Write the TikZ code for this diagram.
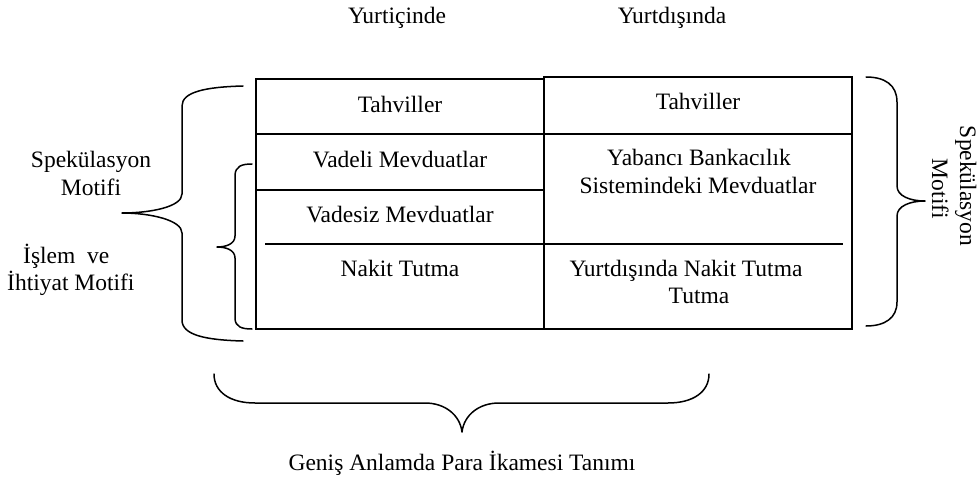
\documentclass[tikz,border=0pt]{standalone}
\usepackage{fontspec}
\setmainfont{Liberation Serif}
\begin{document}
\begin{tikzpicture}[x=1pt,y=-1pt,
  txt/.style={font=\fontsize{23.5}{27}\selectfont, inner sep=0pt, anchor=base},
  frame/.style={line width=1.6pt},
  brace/.style={line width=1.5pt, line join=round, line cap=round}]
\useasboundingbox (0,0) rectangle (980,487);

% top headings
\node[txt] (hdom) at (397,24) {Yurtiçinde};
\node[txt] (hfor) at (672,24) {Yurtdışında};

% table frames
\draw[frame] (256,79) rectangle (544,329);
\draw[frame] (544,77) rectangle (852,329);
\draw[frame] (256,134) -- (852,134);
\draw[frame] (256,190) -- (544,190);
\draw[frame] (265,244) -- (843,244);

% left column cells
\node[txt] (lt) at (400,112) {Tahviller};
\node[txt] (lv) at (400,167) {Vadeli Mevduatlar};
\node[txt] (lz) at (400,222) {Vadesiz Mevduatlar};
\node[txt] (ln) at (400,276) {Nakit Tutma};

% right column cells
\node[txt] (rt) at (698,110) {Tahviller};
\node[txt] (ry1) at (699,165) {Yabancı Bankacılık};
\node[txt] (ry2) at (698,193) {Sistemindeki Mevduatlar};
\node[txt] (rn1) at (686,276) {Yurtdışında Nakit Tutma};
\node[txt] (rn2) at (699,303) {Tutma};

% left labels
\node[txt] (ls1) at (91,167) {Spekülasyon};
\node[txt] (ls2) at (91,195) {Motifi};
\node[txt, anchor=base west] (li1) at (23,263) {İşlem\ \ ve};
\node[txt, anchor=base west] (li2) at (7,290) {İhtiyat Motifi};

% right rotated label
\node[txt, rotate=-90] (rs1) at (960,186) {Spekülasyon};
\node[txt, rotate=-90] (rs2) at (932,189) {Motifi};

% bottom label
\node[txt] (bl) at (462,470) {Geniş Anlamda Para İkamesi Tanımı};

% big left brace
\draw[brace] (243,86) .. controls (205,87) and (182,92) .. (182,106)
  -- (182,194) .. controls (182,207) and (150,213) .. (122,213)
  .. controls (150,213) and (182,220) .. (182,233)
  -- (182,320) .. controls (182,335) and (205,340) .. (243,341);

% small left brace
\draw[brace] (252,164) .. controls (242,164) and (235,166) .. (235,176)
  -- (235,236) .. controls (235,244) and (226,247) .. (217,247)
  .. controls (226,247) and (235,250) .. (235,258)
  -- (235,318) .. controls (235,327) and (242,329) .. (252,329);

% right brace
\draw[brace] (866,77) .. controls (885,77) and (897,85) .. (897,102)
  -- (897,186) .. controls (897,196) and (910,201) .. (925,201)
  .. controls (910,201) and (897,206) .. (897,216)
  -- (897,302) .. controls (897,318) and (885,326) .. (866,326);

% bottom brace
\draw[brace] (214,374) .. controls (214,392) and (230,403) .. (255,403)
  -- (425,403) .. controls (445,403) and (460,415) .. (462,432)
  .. controls (464,415) and (479,403) .. (499,403)
  -- (668,403) .. controls (693,403) and (709,392) .. (709,374);
\end{tikzpicture}
\end{document}
